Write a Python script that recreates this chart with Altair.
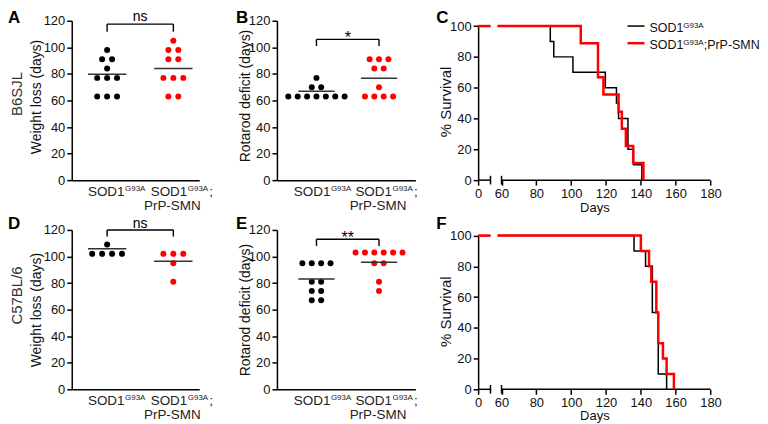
import altair as alt
import pandas as pd

FONT = "Liberation Sans"
GROUPS = ["SOD1G93A", "SOD1G93A;PrP-SMN"]
COLORS = ["#000000", "#ff0000"]

# ---------------- data ----------------
# Panel A - B6SJL weight loss (days)
a_black = [63, 63, 63, 77, 77, 77, 84, 91, 91, 98]
a_red = [63, 63, 77, 77, 77, 91, 91, 98, 98, 105]
a_means = [79.8, 84.0]
# Panel B - B6SJL rotarod deficit (days)
b_black = [63, 63, 63, 63, 63, 63, 63, 70, 70, 77]
b_red = [63, 63, 63, 63, 70, 84, 84, 91, 91, 91]
b_means = [67.0, 76.8]
# Panel D - C57BL/6 weight loss (days)
d_black = [102, 102, 102, 102, 109]
d_red = [81, 95, 102, 102, 102]
d_means = [105.8, 96.5]
# Panel E - C57BL/6 rotarod deficit (days)
e_black = [67, 67, 74, 74, 81, 81, 95, 95, 95, 95]
e_red = [74, 81, 95, 95, 103, 103, 103, 103, 103, 103]
e_means = [83.0, 95.7]

# significance brackets: (top, leg end, label)
brackets = {
    "A": (117.5, 111.8, "ns"),
    "B": (106.0, 101.0, "*"),
    "D": (120.0, 115.0, "ns"),
    "E": (113.0, 108.0, "**"),
}

# Kaplan-Meier survival (day of drop, % surviving after drop)
c_black_days = [88, 90, 101, 119.6, 126, 127.2, 132.6, 135.8, 140.6]
c_black_surv = [90, 80, 70, 60, 50, 40, 20, 10, 0]
c_red_days = [105.5, 115.4, 118.5, 127.2, 129.1, 131.4, 135.6, 141.5]
c_red_surv = [88.9, 66.7, 55.6, 44.4, 33.3, 22.2, 11.1, 0]
f_black_days = [136.1, 142.7, 146.6, 150.0, 154.8]
f_black_surv = [90, 80, 50, 10, 0]
f_red_days = [140.0, 144.7, 146.0, 148.9, 150.0, 152.7, 154.8, 159.0]
f_red_surv = [90, 80, 70, 50, 30, 20, 10, 0]

x_ticks_surv = [0, 60, 80, 100, 120, 140, 160, 180]
y_ticks_scatter = [0, 20, 40, 60, 80, 100, 120]
y_ticks_surv = [0, 20, 40, 60, 80, 100]

# ---------------- layout constants ----------------
H = 160
SLOT = 0.15
HALF = 0.29
BREAK_LO, BREAK_HI = 31.7, 50
CAT_FS = 13.5


def swarm(values, g):
    counts = {}
    for v in values:
        counts[v] = counts.get(v, 0) + 1
    seen = {}
    rows = []
    for v in values:
        n = counts[v]
        i = seen.get(v, 0)
        seen[v] = i + 1
        rows.append({"x": g + (i - (n - 1) / 2) * SLOT, "y": v, "grp": GROUPS[g]})
    return rows


def txt(text, x, y, size, align="left", baseline="alphabetic", dx=0, dy=0,
        color="#222222", weight="normal", angle=0, pixel=False, enc=None):
    df = pd.DataFrame({"x": [x], "y": [y], "t": [text]})
    m = alt.Chart(df).mark_text(font=FONT, fontSize=size, align=align, baseline=baseline,
                                dx=dx, dy=dy, color=color, fontWeight=weight, angle=angle)
    if pixel:
        return m.encode(x=alt.value(x), y=alt.value(y), text="t:N")
    return m.encode(x=enc[0], y=enc[1], text="t:N")


def scatter_panel(key, black, red, means, ytitle, tx, ty, xdom, xlen, width,
                  dxs, letter_xy, row_label=None, row_label_y=None, sig_size=14, sig_dy=-3.5):
    X = alt.X("x:Q", scale=alt.Scale(domain=xdom, range=[0, xlen], nice=False, zero=False),
              axis=alt.Axis(labels=False, ticks=False, title=None, grid=False))
    Y = alt.Y("y:Q", scale=alt.Scale(domain=[0, 120], nice=False, zero=False),
              axis=alt.Axis(values=y_ticks_scatter, title=ytitle, titleX=tx, titleY=ty,
                            titleAlign="center", titleBaseline="middle", titleAngle=-90))
    enc = (X, Y)
    pts = pd.DataFrame(swarm(black, 0) + swarm(red, 1))
    dots = alt.Chart(pts).mark_circle(size=36, opacity=1).encode(
        x=X, y=Y,
        color=alt.Color("grp:N", scale=alt.Scale(domain=GROUPS, range=COLORS), legend=None))
    mdf = pd.DataFrame({"x": [0 - HALF, 1 - HALF], "x2": [0 + HALF, 1 + HALF], "y": means})
    mean = alt.Chart(mdf).mark_rule(color="#333333", strokeWidth=1.5).encode(
        x=X, x2=alt.X2("x2:Q"), y=Y)
    top, low, lab = brackets[key]
    bdf = pd.DataFrame({"x": [0, 0, 1], "x2": [1, 0, 1], "y": [top, top, top], "y2": [top, low, low]})
    br = alt.Chart(bdf).mark_rule(color="black", strokeWidth=1.4).encode(
        x=X, x2=alt.X2("x2:Q"), y=Y, y2=alt.Y2("y2:Q"))
    sig = txt(lab, 0.5, top, sig_size, align="center", dy=sig_dy, color="black", enc=enc)
    layers = [dots, mean, br, sig]
    # category labels
    layers.append(txt("SOD1", 0, 0, CAT_FS, align="right", dx=dxs[0], dy=16, enc=enc))
    layers.append(txt("G93A", 0, 0, 8, align="left", dx=dxs[0] + 0.5, dy=10.5, enc=enc))
    layers.append(txt("SOD1", 1, 0, CAT_FS, align="right", dx=dxs[1], dy=16, enc=enc))
    layers.append(txt("G93A", 1, 0, 8, align="left", dx=dxs[1] + 0.5, dy=10.5, enc=enc))
    layers.append(txt(";", 1, 0, CAT_FS, align="left", dx=dxs[1] + 22, dy=16, enc=enc))
    layers.append(txt("PrP-SMN", 1, 0, CAT_FS, align="center", dx=-1, dy=30, enc=enc))
    layers.append(txt(key, letter_xy[0], letter_xy[1], 17, align="left", baseline="top",
                      color="black", weight="bold", pixel=True))
    if row_label:
        layers.append(txt(row_label, -55, row_label_y, 15, align="center", baseline="middle",
                          color="#333333", angle=270, pixel=True))
    return alt.layer(*layers).properties(width=width, height=H)


def surv_rows(days, surv, tag):
    rows = [{"x": 0, "y": 100, "seg": tag + "a"}, {"x": BREAK_LO, "y": 100, "seg": tag + "a"},
            {"x": BREAK_HI, "y": 100, "seg": tag + "b"}]
    for d, s in zip(days, surv):
        rows.append({"x": d, "y": s, "seg": tag + "b"})
    return pd.DataFrame(rows)


def surv_panel(key, bd, bs, rd, rs, ytop, letter_xy, legend=False, ty=81, days_y=27):
    X = alt.X("x:Q", scale=alt.Scale(domain=[0, 60, 180], range=[0, 23.5, 233.3], nice=False, zero=False),
              axis=alt.Axis(values=x_ticks_surv, domain=False, title="Days", titleX=116.7, titleY=days_y,
                            titleBaseline="middle", titleFontSize=13))
    Y = alt.Y("y:Q", scale=alt.Scale(domain=[0, 100], range=[H, ytop], nice=False, zero=False),
              axis=alt.Axis(values=y_ticks_surv, title="% Survival", titleX=-32.5, titleY=ty,
                            titleAlign="center", titleBaseline="middle", titleAngle=-90, titleFontSize=15))
    lb = alt.Chart(surv_rows(bd, bs, "k")).mark_line(interpolate="step-after", color="black",
                                                    strokeWidth=1.5).encode(x=X, y=Y, detail="seg:N")
    lr = alt.Chart(surv_rows(rd, rs, "r")).mark_line(interpolate="step-after", color="#ff0000",
                                                    strokeWidth=2.5).encode(x=X, y=Y, detail="seg:N")
    adf = pd.DataFrame({"x": [0, 60], "x2": [BREAK_LO, 180], "y": [0, 0]})
    ax = alt.Chart(adf).mark_rule(color="black", strokeWidth=1.5).encode(x=X, x2=alt.X2("x2:Q"), y=Y)
    cdf = pd.DataFrame({"x": [BREAK_LO, 60], "y": [-2.8, -2.8], "y2": [2.8, 2.8]})
    caps = alt.Chart(cdf).mark_rule(color="black", strokeWidth=1.5).encode(x=X, y=Y, y2=alt.Y2("y2:Q"))
    layers = [ax, caps, lb, lr]
    layers.append(txt(key, letter_xy[0], letter_xy[1], 17, align="left", baseline="top",
                      color="black", weight="bold", pixel=True))
    if legend:
        for i, (c, w) in enumerate([("black", 1.5), ("#ff0000", 2.5)]):
            yy = 5.3 + 17.2 * i
            ldf = pd.DataFrame({"g": [GROUPS[i]]})
            layers.append(alt.Chart(ldf).mark_rule(color=c, strokeWidth=w).encode(
                x=alt.value(150), x2=alt.value(167), y=alt.value(yy)))
            layers.append(txt("SOD1", 172, yy + 5.8, 12.5, color="#111111", pixel=True))
            layers.append(txt("G93A", 206, yy + 2.3, 8, color="#111111", pixel=True))
        layers.append(txt(";PrP-SMN", 226.5, 5.3 + 17.2 + 5.8, 12.5, color="#111111", pixel=True))
    return alt.layer(*layers).properties(width=234, height=H)


AX_DOM = [-0.534, 1.391]
BX_DOM = [-0.632, 1.581]

pA = scatter_panel("A", a_black, a_red, a_means, "Weight loss (days)", -35, 76, AX_DOM, 128, 146,
                   (17.5, 14), (-64, -11), row_label="B6SJL", row_label_y=73.5)
pB = scatter_panel("B", b_black, b_red, b_means, "Rotarod deficit (days)", -31.5, 75, BX_DOM, 139, 142,
                   (14, 13), (-41, -11), sig_size=16, sig_dy=4)
pC = surv_panel("C", c_black_days, c_black_surv, c_red_days, c_red_surv, 5.3, (-42, -11), legend=True)
pD = scatter_panel("D", d_black, d_red, d_means, "Weight loss (days)", -35, 80, AX_DOM, 128, 146,
                   (17.5, 14), (-64, -13.5), row_label="C57BL/6", row_label_y=65.8, sig_dy=-2.3)
pE = scatter_panel("E", e_black, e_red, e_means, "Rotarod deficit (days)", -31.5, 80, BX_DOM, 139, 142,
                   (14, 13), (-41, -13.5), sig_size=16, sig_dy=4)
pF = surv_panel("F", f_black_days, f_black_surv, f_red_days, f_red_surv, 5.7, (-42, -13.5), ty=81.5, days_y=26)

chart = alt.concat(pA, pB, pC, pD, pE, pF, columns=3, spacing={"row": 50, "column": 60},
                   bounds="flush", align="each").properties(
    padding={"left": 0, "top": 0, "right": 0, "bottom": 0}
).configure_axis(
    domainColor="black", domainWidth=1.5, tickColor="black", tickWidth=1.5, tickSize=5,
    labelFont=FONT, labelFontSize=13, labelColor="#111111", labelPadding=2, labelFlush=False,
    titleFont=FONT, titleFontSize=14, titleColor="#111111", titleFontWeight="normal", grid=False
).configure_view(stroke=None)

chart.save("out.html", embed_options={"renderer": "svg", "actions": False})
